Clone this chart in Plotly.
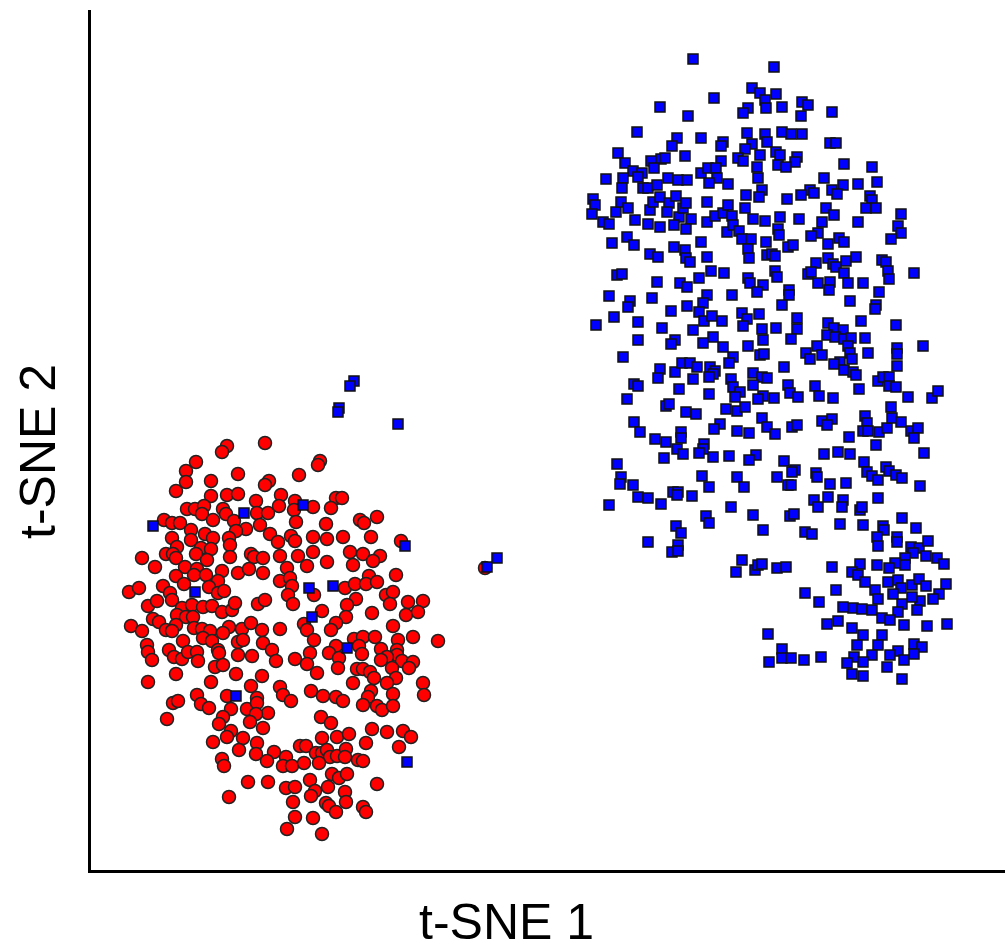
import plotly.graph_objects as go

# t-SNE embedding, class A (red circles)
red_pts = [
(227,446),(222,452),(265,443),(196,462),(186,471),(238,474),(211,481),(186,482),(269,481),(265,485),(176,491),(211,496),(227,495),(238,494),(281,495),(256,501),(187,509),(195,509),(204,506),(202,514),(223,509),(226,514),(213,520),(234,521),(257,513),(268,513),(279,506),(164,520),(172,523),(180,523),(260,525),(246,529),(236,531),(191,530),(205,534),(213,538),(191,540),(172,538),(229,538),(270,534),(278,542),(230,545),(177,547),(201,548),(211,549),(166,554),(173,554),(196,554),(207,560),(230,557),(251,554),(254,557),(263,558),(280,556),(142,558),(155,567),(176,558),(185,567),(197,569),(194,575),(206,575),(176,576),(222,571),(238,573),(249,569),(263,573),(280,581),(218,581),(184,584),(163,586),(209,587),(129,592),(139,588),(170,593),(172,600),(218,593),(224,591),(148,606),(157,601),(182,608),(192,605),(203,607),(212,606),(222,612),(232,610),(235,603),(258,604),(265,600),(177,615),(186,617),(193,617),(153,619),(159,622),(176,625),(166,630),(172,631),(131,626),(142,631),(194,628),(202,629),(210,631),(229,627),(242,629),(251,623),(262,630),(280,629),(223,633),
(320,461),(318,465),(299,475),(295,501),(313,507),(294,510),(336,498),(342,498),(331,508),(296,522),(326,524),(360,520),(364,523),(377,517),(291,536),(295,541),(313,537),(327,539),(343,537),(371,537),(401,541),(298,556),(313,552),(350,552),(363,554),(380,556),(373,561),(307,566),(327,562),(353,565),(287,568),(396,575),(369,576),(290,578),(292,586),(345,588),(355,584),(366,584),(377,582),(288,595),(314,595),(356,599),(386,595),(393,592),(390,604),(408,602),(423,601),(293,604),(347,605),(322,611),(372,613),(346,617),(336,623),(304,624),(307,630),(331,630),(393,626),(406,615),(418,612),(485,568),
(147,645),(148,652),(152,660),(169,650),(174,657),(183,641),(182,659),(188,652),(197,652),(198,661),(203,638),(212,641),(218,650),(219,653),(215,667),(223,665),(238,642),(243,640),(238,655),(252,656),(263,643),(272,650),(276,661),(148,682),(176,674),(211,682),(236,674),(262,676),(251,686),(197,695),(227,696),(173,703),(178,701),(201,704),(209,708),(231,709),(247,709),(257,698),(257,703),(268,713),(256,714),(223,717),(219,724),(167,719),(250,722),(263,728),(231,731),(227,737),(213,742),(243,738),(257,743),(239,750),(256,754),(274,752),(267,761),(222,759),(224,766),(248,782),(268,782),(229,797),
(314,640),(336,646),(354,639),(363,637),(375,637),(359,646),(398,640),(413,637),(438,641),(310,653),(329,653),(339,658),(362,654),(381,649),(397,650),(397,655),(387,657),(381,660),(402,661),(413,662),(409,668),(295,659),(307,664),(317,673),(338,668),(357,669),(363,669),(370,672),(374,678),(392,668),(396,678),(387,683),(353,683),(423,683),(424,695),(280,687),(283,695),(291,701),(311,691),(323,696),(336,697),(343,701),(371,691),(368,697),(363,705),(377,706),(382,710),(393,694),(393,706),(321,717),(331,723),(322,738),(337,737),(349,734),(366,743),(372,729),(387,732),(403,731),(411,737),(399,747),(300,746),(306,746),(316,753),(322,753),(327,750),(330,757),(337,756),(346,749),(345,757),(286,757),(283,766),(292,766),(304,763),(319,763),(358,760),(363,761),(332,774),(339,778),(347,774),(310,780),(328,787),(286,788),(295,787),(315,791),(311,796),(345,792),(346,802),(377,784),(293,802),(326,803),(329,806),(336,812),(363,807),(366,812),(295,817),(313,818),(287,829),(322,834),
]

# t-SNE embedding, class B (blue squares)
blue_pts = [
(244,513),(153,526),(195,592),(303,505),(405,546),(309,588),(333,586),(312,617),(236,696),(347,648),(407,762),
(354,381),(350,386),(339,408),(338,412),(398,424),(487,567),(497,558),
(693,59),(714,98),(660,107),(688,116),(637,132),(752,88),(760,93),(765,100),(748,108),(743,113),(766,108),(677,138),(672,146),(701,138),(723,142),(721,146),(747,133),(765,134),(767,142),(752,144),(745,149),(738,158),(743,161),(760,155),(757,167),(618,153),(625,163),(651,161),(661,159),(665,158),(685,156),(721,161),(654,168),(633,171),(642,173),(623,178),(606,179),(622,188),(638,177),(643,188),(648,188),(657,185),(668,178),(678,180),(687,180),(701,173),(708,168),(716,168),(717,178),(709,183),(728,184),(758,178),(762,190),(759,197),(746,195),(593,199),(595,205),(592,214),(603,222),(609,224),(616,212),(621,202),(628,208),(635,220),(650,210),(653,202),(660,197),(669,203),(667,212),(676,196),(679,217),(683,208),(686,203),(691,219),(648,224),(660,227),(674,225),(686,229),(707,202),(707,222),(715,216),(723,213),(728,205),(732,216),(727,232),(733,225),(739,231),(742,239),(751,239),(745,208),(753,219),(765,221),(612,243),(627,237),(634,245),(650,254),(658,257),(674,247),(685,250),(686,258),(701,242),(707,257),(748,249),(749,258),(766,242),(767,255),
(774,67),(776,94),(782,107),(802,102),(808,105),(801,116),(832,112),(782,132),(791,134),(802,134),(830,143),(836,143),(776,152),(780,155),(797,157),(795,162),(778,165),(786,167),(844,164),(872,167),(824,178),(843,185),(858,184),(877,182),(832,190),(837,194),(810,190),(814,193),(801,195),(787,199),(870,196),(872,200),(866,208),(876,208),(826,208),(834,215),(901,214),(898,226),(901,233),(891,239),(858,222),(822,222),(818,233),(811,236),(799,219),(780,217),(778,229),(779,235),(788,247),(793,245),(828,244),(839,238),(844,242),(772,254),(775,256),(828,258),(846,261),(856,257),(882,260),(886,262),(816,263),(833,264),
(617,275),(622,274),(690,262),(711,271),(724,273),(699,278),(680,283),(687,287),(657,282),(748,278),(750,283),(763,285),(757,292),(609,296),(630,301),(628,307),(652,298),(707,295),(703,303),(732,295),(671,311),(687,306),(699,312),(704,321),(712,316),(722,321),(742,313),(747,319),(759,314),(743,326),(596,325),(614,317),(638,322),(662,328),(693,330),(762,329),(638,340),(675,340),(671,344),(703,343),(713,337),(723,347),(748,346),(763,340),(760,355),(764,354),(733,357),(729,363),(623,357),(660,369),(658,378),(675,372),(682,363),(690,363),(697,367),(710,367),(715,371),(713,374),(709,377),(693,379),(731,379),(753,373),(762,377),(767,378),(634,384),(638,386),(679,389),(709,394),(733,387),(740,392),(735,397),(753,385),(763,396),(758,399),(627,399),(666,406),(669,404),(726,409),(737,411),(745,407),(686,412),(696,414),(762,418),(634,422),(640,432),(655,439),(666,442),(681,432),(681,438),(720,424),(714,429),(737,431),(749,433),(767,427),(704,444),(703,449),(699,453),(677,449),(683,454),(664,458),(713,457),(729,456),(756,455),(749,460),(617,464),(621,477),(702,476),(737,477),
(775,271),(777,277),(808,274),(811,272),(836,267),(844,273),(818,283),(830,282),(829,290),(848,283),(863,283),(888,271),(889,279),(914,273),(879,292),(789,290),(789,295),(782,305),(850,301),(876,305),(875,309),(797,318),(797,329),(776,328),(791,339),(828,323),(834,328),(843,330),(827,335),(835,337),(844,339),(851,338),(861,321),(865,338),(896,325),(817,346),(806,353),(810,359),(822,355),(848,346),(850,353),(852,359),(840,362),(834,364),(844,370),(853,372),(856,375),(868,353),(897,348),(897,354),(923,346),(897,366),(784,367),(878,381),(883,377),(889,377),(889,386),(896,387),(859,389),(788,385),(790,393),(798,397),(774,398),(815,386),(819,396),(833,398),(908,397),(932,398),(938,391),(891,407),(865,416),(867,423),(863,431),(868,431),(879,432),(887,428),(892,418),(901,422),(911,431),(918,428),(914,438),(849,437),(876,445),(822,421),(832,419),(827,425),(792,427),(797,425),(775,434),(824,454),(838,452),(850,454),(924,453),(784,461),(795,470),(792,472),(816,473),(864,462),(867,472),(872,476),(886,467),(889,471),(896,475),(902,478),(777,477),
(620,484),(633,485),(609,505),(638,497),(648,498),(661,504),(673,492),(678,492),(677,495),(692,496),(709,487),(744,487),(731,507),(753,515),(763,530),(706,516),(709,523),(676,526),(681,533),(648,542),(678,545),(672,552),(678,551),(742,560),(736,572),(755,570),(758,565),(762,564),(768,634),(769,662),
(788,485),(791,485),(817,477),(830,484),(846,483),(878,480),(920,486),(814,500),(818,507),(828,497),(843,500),(842,507),(860,510),(862,507),(878,498),(790,516),(794,514),(840,524),(863,525),(883,526),(884,530),(902,518),(916,528),(805,532),(812,534),(877,537),(878,546),(897,537),(897,542),(911,547),(919,548),(928,541),(913,553),(926,556),(937,558),(944,564),(905,558),(895,563),(905,565),(889,568),(877,565),(860,564),(852,572),(858,575),(865,582),(832,567),(777,568),(786,567),(888,582),(898,580),(901,588),(912,585),(919,579),(926,586),(946,584),(939,594),(933,599),(920,601),(912,597),(893,594),(875,590),(878,599),(836,590),(805,593),(819,602),(843,607),(853,608),(862,609),(872,610),(902,604),(898,612),(917,610),(882,618),(890,620),(904,625),(927,626),(947,624),(838,621),(827,624),(852,628),(863,635),(882,635),(878,645),(857,645),(914,644),(922,647),(898,651),(890,655),(914,654),(872,655),(854,657),(847,663),(863,662),(904,660),(887,667),(782,649),(782,658),(791,658),(804,660),(821,657),(852,674),(863,676),(902,679),
]

red_x = [p[0] for p in red_pts]
red_y = [p[1] for p in red_pts]
blue_x = [p[0] for p in blue_pts]
blue_y = [p[1] for p in blue_pts]

x_title = "t-SNE 1"
y_title = "t-SNE 2"

fig = go.Figure()
fig.add_trace(go.Scatter(
    x=red_x, y=red_y, mode="markers",
    marker=dict(symbol="circle", size=13, color="#FF0000",
                line=dict(color="#222222", width=1.5)),
    showlegend=False, hoverinfo="skip"))
fig.add_trace(go.Scatter(
    x=blue_x, y=blue_y, mode="markers",
    marker=dict(symbol="square", size=10, color="#0000FF",
                line=dict(color="#111111", width=1.5)),
    showlegend=False, hoverinfo="skip"))

fig.update_layout(
    width=1007, height=949,
    margin=dict(l=91, r=2, t=10, b=79),
    paper_bgcolor="white", plot_bgcolor="white",
    font=dict(family="Liberation Sans, Arial, sans-serif", color="black"),
    xaxis=dict(range=[91, 1005], showgrid=False, zeroline=False,
               showticklabels=False, ticks="", showline=True,
               linecolor="black", linewidth=3, mirror=False),
    yaxis=dict(range=[870, 10], showgrid=False, zeroline=False,
               showticklabels=False, ticks="", showline=True,
               linecolor="black", linewidth=3, mirror=False),
    annotations=[
        dict(text=x_title, xref="paper", yref="paper",
             x=(506 - 91) / 914, y=(870 - 922) / 860,
             xanchor="center", yanchor="middle", showarrow=False,
             font=dict(size=50)),
        dict(text=y_title, xref="paper", yref="paper",
             x=(38 - 91) / 914, y=(870 - 452) / 860,
             xanchor="center", yanchor="middle", showarrow=False,
             textangle=-90, font=dict(size=50)),
    ],
)

fig.write_html("out.html")
